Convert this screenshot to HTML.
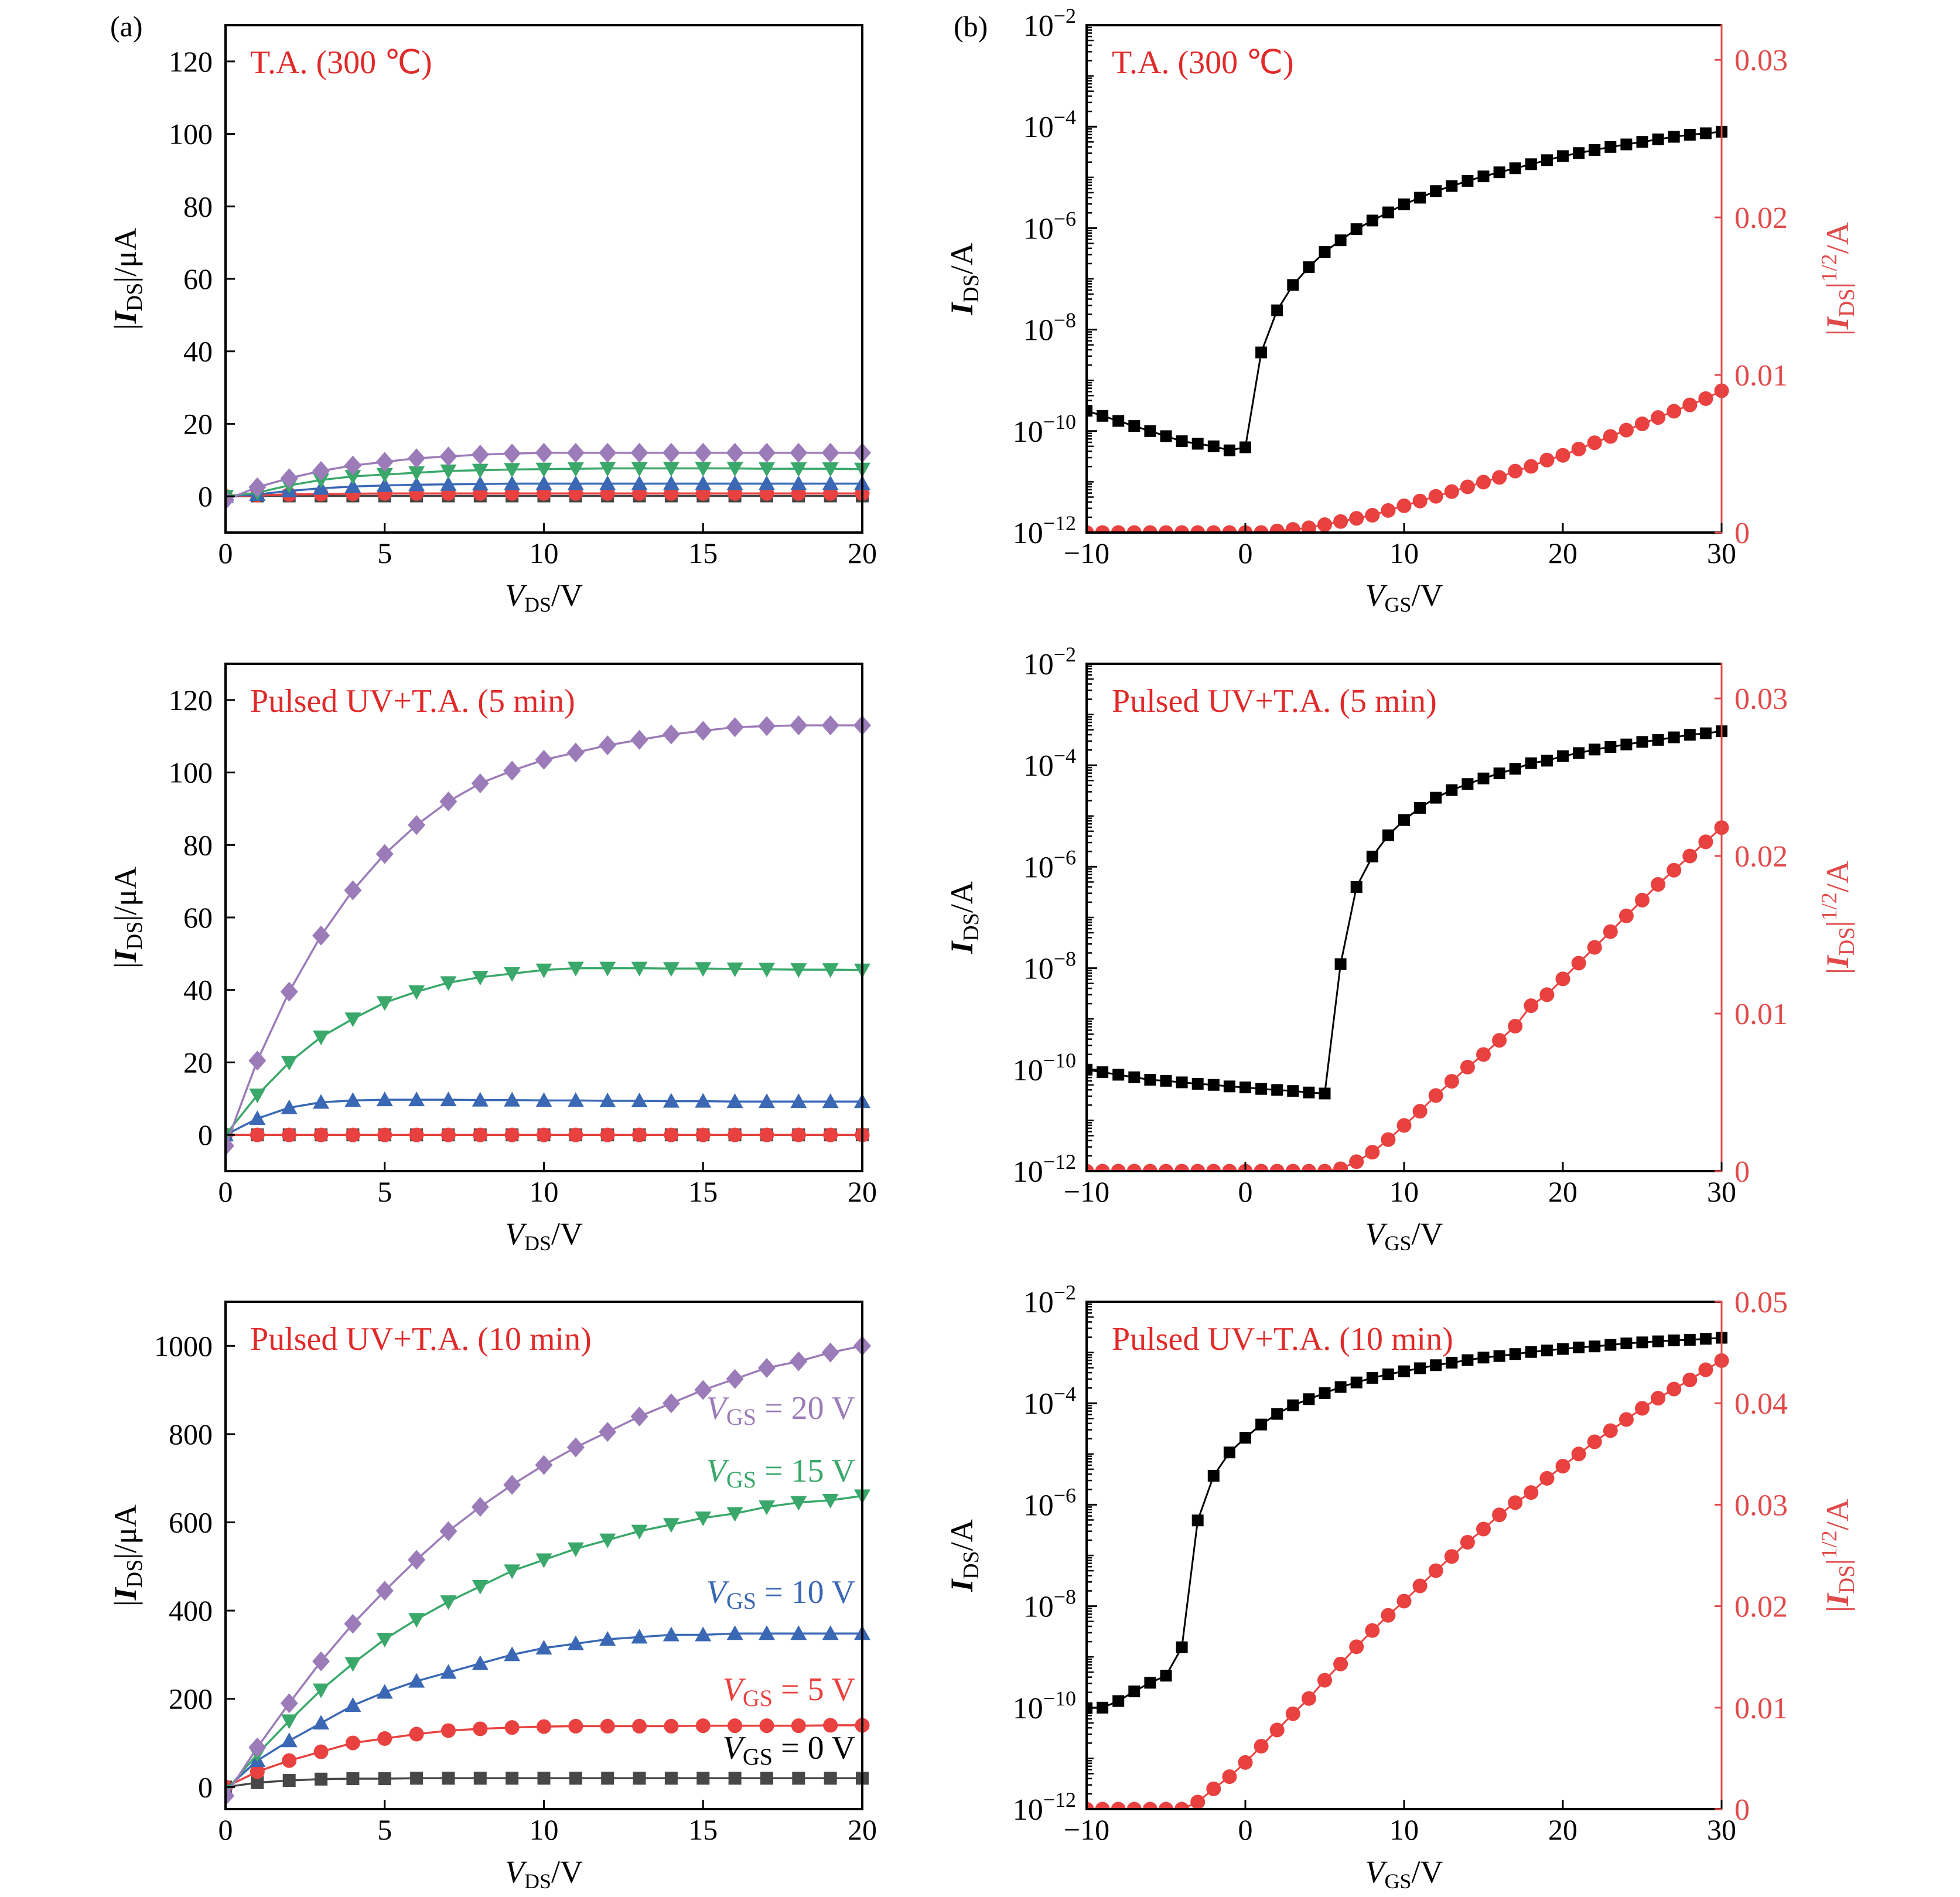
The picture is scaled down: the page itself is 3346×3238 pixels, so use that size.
<!DOCTYPE html>
<html><head><meta charset="utf-8">
<style>
html,body{margin:0;padding:0;background:#fff;}
svg{display:block;font-family:"Liberation Serif",serif;}
</style></head>
<body>
<svg id="fig" width="3346" height="3238" viewBox="0 0 3346 3238" xmlns="http://www.w3.org/2000/svg"></svg>
<script>
// ---------- data ----------
const vds = [0,1,2,3,4,5,6,7,8,9,10,11,12,13,14,15,16,17,18,19,20];
const vgs = [-10,-9,-8,-7,-6,-5,-4,-3,-2,-1,0,1,2,3,4,5,6,7,8,9,10,11,12,13,14,15,16,17,18,19,20,21,22,23,24,25,26,27,28,29,30];

// panel a1 (T.A. 300C), uA
const a1_vg20 = [-1,2.5,5,7,8.5,9.5,10.5,11,11.5,11.8,12,12,12,12,12,12,12,12,12,12,12];
const a1_vg15 = [0,1,3,4.5,5.5,6,6.5,7,7.2,7.4,7.5,7.6,7.7,7.7,7.7,7.7,7.7,7.6,7.6,7.6,7.5];
const a1_vg10 = [0,0.5,1.5,2.2,2.7,3,3.2,3.3,3.4,3.5,3.5,3.5,3.5,3.5,3.5,3.5,3.5,3.5,3.5,3.5,3.5];
const a1_vg5  = [0,0.3,0.5,0.6,0.7,0.8,0.8,0.8,0.8,0.8,0.8,0.8,0.8,0.8,0.8,0.8,0.8,0.8,0.8,0.8,0.8];
const a1_vg0  = [0,0.1,0.1,0.1,0.1,0.1,0.1,0.1,0.1,0.1,0.1,0.1,0.1,0.1,0.1,0.1,0.1,0.1,0.1,0.1,0.1];
// panel a2 (5 min)
const a2_vg20 = [-3,20.5,39.5,55,67.5,77.5,85.5,92,97,100.5,103.5,105.5,107.5,109,110.5,111.5,112.5,112.8,113,113,113];
const a2_vg15 = [0,11,20,27,32,36.5,39.5,42,43.5,44.5,45.5,46,46,46,45.9,45.9,45.8,45.7,45.6,45.6,45.5];
const a2_vg10 = [0,4.5,7.5,9,9.5,9.7,9.7,9.7,9.6,9.6,9.5,9.5,9.4,9.4,9.3,9.3,9.2,9.2,9.2,9.2,9.2];
const a2_vg5  = [0,0,0,0,0,0,0,0,0,0,0,0,0,0,0,0,0,0,0,0,0];
const a2_vg0  = [0,0,0,0,0,0,0,0,0,0,0,0,0,0,0,0,0,0,0,0,0];
// panel a3 (10 min)
const a3_vg20 = [-20,90,190,285,370,445,515,580,635,685,730,770,805,840,870,900,925,950,965,985,1000];
const a3_vg15 = [-10,75,150,220,280,335,380,420,455,490,515,540,560,580,595,610,620,635,645,650,660];
const a3_vg10 = [-5,60,105,145,185,215,240,260,280,300,315,325,335,340,345,345,348,348,348,348,348];
const a3_vg5  = [0,35,60,80,100,110,120,128,132,135,137,138,138,138,138,139,139,139,139,140,140];
const a3_vg0  = [0,10,15,18,19,19,20,20,20,20,20,20,20,20,20,20,20,20,20,20,20];

// panel b: log10(I_DS) and sqrt(I_DS)
const b1_logI = [-9.6,-9.7,-9.8,-9.9,-10.0,-10.1,-10.2,-10.25,-10.3,-10.38,-10.32,-8.45,-7.62,-7.12,-6.77,-6.47,-6.24,-6.02,-5.85,-5.69,-5.53,-5.4,-5.27,-5.17,-5.07,-4.98,-4.9,-4.82,-4.74,-4.66,-4.58,-4.52,-4.46,-4.4,-4.35,-4.3,-4.25,-4.2,-4.16,-4.13,-4.1];
const b1_sqrt = [0,0,0,0,0,0,0,0,0,0,0,0,0.0001,0.0002,0.0003,0.0005,0.0007,0.0009,0.0011,0.0014,0.0017,0.002,0.0023,0.0026,0.0029,0.0032,0.0035,0.0039,0.0042,0.0046,0.0049,0.0053,0.0057,0.0061,0.0065,0.0069,0.0073,0.0077,0.0081,0.0085,0.009];
const b2_logI = [-10.0,-10.05,-10.1,-10.15,-10.2,-10.22,-10.25,-10.28,-10.3,-10.33,-10.35,-10.38,-10.4,-10.42,-10.45,-10.47,-7.92,-6.4,-5.8,-5.38,-5.08,-4.84,-4.64,-4.49,-4.37,-4.26,-4.16,-4.07,-3.96,-3.91,-3.82,-3.76,-3.69,-3.64,-3.59,-3.54,-3.5,-3.45,-3.4,-3.37,-3.33];
const b2_sqrt = [0,0,0,0,0,0,0,0,0,0,0,0,0,0,0,0,0.00015,0.0006,0.0012,0.002,0.0029,0.0038,0.0048,0.0057,0.0066,0.0074,0.0083,0.0092,0.0105,0.0112,0.0122,0.0132,0.0142,0.0152,0.0162,0.0172,0.0182,0.0191,0.02,0.0209,0.0218];
const b3_logI = [-10.01,-10.0,-9.87,-9.68,-9.51,-9.37,-8.81,-6.31,-5.43,-4.97,-4.68,-4.42,-4.21,-4.04,-3.92,-3.8,-3.68,-3.59,-3.5,-3.43,-3.37,-3.31,-3.25,-3.2,-3.15,-3.1,-3.07,-3.03,-2.99,-2.96,-2.93,-2.9,-2.88,-2.85,-2.82,-2.8,-2.78,-2.76,-2.75,-2.73,-2.71];
const b3_sqrt = [0,0,0,0,0,0,0,0.0007,0.002,0.0032,0.0046,0.0062,0.0078,0.0094,0.0109,0.0127,0.0143,0.016,0.0176,0.0191,0.0205,0.022,0.0235,0.0249,0.0263,0.0276,0.029,0.0302,0.0312,0.0326,0.0338,0.035,0.0362,0.0373,0.0384,0.0395,0.0405,0.0414,0.0423,0.0433,0.0442];

// tick labels
const aXTicks = [0,5,10,15,20];
const aYTicks12 = [0,20,40,60,80,100,120];
const aYTicks3 = [0,200,400,600,800,1000];
const bXTicks = [-10,0,10,20,30];
const bLogTicks = [-12,-10,-8,-6,-4,-2];
const bRTicks12 = [0,0.01,0.02,0.03];
const bRTicks3 = [0,0.01,0.02,0.03,0.04,0.05];
const bRLabels12 = ["0","0.01","0.02","0.03"];
const bRLabels3 = ["0","0.01","0.02","0.03","0.04","0.05"];

// ---------- drawing ----------
const NS = "http://www.w3.org/2000/svg";
const svg = document.getElementById('fig');
const COL = {p:'#9b7bb8', g:'#3aa86a', b:'#3a68b4', r:'#e8413f', k:'#474747', K:'#000', R:'#e04a4a'};
function el(tag, attrs, parent){
  const e = document.createElementNS(NS, tag);
  for (const k in attrs) e.setAttribute(k, attrs[k]);
  (parent||svg).appendChild(e);
  return e;
}
function marker(g, shape, x, y, color){
  let m;
  if (shape==='sq') m = el('rect',{x:x-10,y:y-10,width:20,height:20,fill:color},g);
  else if (shape==='sqa') m = el('rect',{x:x-11,y:y-11,width:22,height:22,fill:color},g);
  else if (shape==='ci') m = el('circle',{cx:x,cy:y,r:12.5,fill:color},g);
  else if (shape==='up') m = el('polygon',{points:`${x},${y-14} ${x+14},${y+11} ${x-14},${y+11}`,fill:color},g);
  else if (shape==='dn') m = el('polygon',{points:`${x},${y+14} ${x+14},${y-11} ${x-14},${y-11}`,fill:color},g);
  else m = el('polygon',{points:`${x},${y-17} ${x+15},${y} ${x},${y+17} ${x-15},${y}`,fill:color},g);
  
  
}
function txt(s, x, y, opts, name){
  const t = el('text', Object.assign({x:x,y:y,'font-size':50}, opts||{}));
  t.innerHTML = s;
  
  
  return t;
}

const tops = [43,1133,2222], H = 866;
const AL = 385, AR = 1472, BL = 1855, BR = 2939;

const aPanels = [
  {data:[a1_vg0,a1_vg5,a1_vg10,a1_vg15,a1_vg20], ymin:-10, ymax:130, ticks:aYTicks12, title:'T.A. (300 ℃)'},
  {data:[a2_vg0,a2_vg5,a2_vg10,a2_vg15,a2_vg20], ymin:-10, ymax:130, ticks:aYTicks12, title:'Pulsed UV+T.A. (5 min)'},
  {data:[a3_vg0,a3_vg5,a3_vg10,a3_vg15,a3_vg20], ymin:-50, ymax:1100, ticks:aYTicks3, title:'Pulsed UV+T.A. (10 min)'}
];
const bPanels = [
  {logI:b1_logI, sq:b1_sqrt, rmax:0.0322, rt:bRTicks12, rl:bRLabels12, title:'T.A. (300 ℃)'},
  {logI:b2_logI, sq:b2_sqrt, rmax:0.0322, rt:bRTicks12, rl:bRLabels12, title:'Pulsed UV+T.A. (5 min)'},
  {logI:b3_logI, sq:b3_sqrt, rmax:0.05, rt:bRTicks3, rl:bRLabels3, title:'Pulsed UV+T.A. (10 min)'}
];
const shapesA = ['sqa','ci','up','dn','di'];
const colsA = [COL.k, COL.r, COL.b, COL.g, COL.p];
const namesA = ['vgs-0v','vgs-5v','vgs-10v','vgs-15v','vgs-20v'];

aPanels.forEach((P, idx)=>{
  const T = tops[idx], B = T+H;
  const sx = v => AL + (v-0)/(20-0)*(AR-AL);
  const sy = v => B - (v-P.ymin)/(P.ymax-P.ymin)*H;
  const clip = el('clipPath',{id:'ca'+idx});
  el('rect',{x:AL,y:T-20,width:AR-AL+20,height:H+20},clip);
  const g = el('g',{'clip-path':`url(#ca${idx})`});
  
  
  P.data.forEach((d,k)=>{
    const holder = el('g',{},g);
    
    
    const pts = vds.map((x,i)=>sx(x)+','+sy(d[i])).join(' ');
    const l = el('polyline',{points:pts,fill:'none',stroke:colsA[k],'stroke-width':3.5},holder);
    
    
    vds.forEach((x,i)=>marker(holder, shapesA[k], sx(x), sy(d[i]), colsA[k]));
  });
  const fr = el('rect',{x:AL,y:T,width:AR-AL,height:H,fill:'none',stroke:'#000','stroke-width':4});
  
  
  aXTicks.forEach(v=>{
    const tk = el('line',{x1:sx(v),x2:sx(v),y1:B,y2:B-16,stroke:'#000','stroke-width':3});
    
    
    txt(String(v), sx(v), B+52, {'text-anchor':'middle'}, 'x-tick-label');
  });
  P.ticks.forEach(v=>{
    const tk = el('line',{x1:AL,x2:AL+16,y1:sy(v),y2:sy(v),stroke:'#000','stroke-width':3});
    
    
    txt(String(v), AL-22, sy(v)+17, {'text-anchor':'end'}, 'y-tick-label');
  });
  txt('<tspan font-style="italic">V</tspan><tspan font-size="36" dy="10">DS</tspan><tspan dy="-10">/V</tspan>', (AL+AR)/2, B+125, {'text-anchor':'middle','font-size':54}, 'x-axis-title');
  txt('|<tspan font-style="italic" font-weight="bold">I</tspan><tspan font-size="38" dy="10">DS</tspan><tspan dy="-10">|/μA</tspan>', 0, 0, {'text-anchor':'middle','font-size':54, transform:`translate(232,${T+H/2}) rotate(-90)`}, 'y-axis-title');
  txt(P.title, AL+42, T+82, {fill:'#e02a2a','font-size':56}, 'panel-condition-label');
});
txt('(a)', 188, 62, {'font-size':50}, 'panel-a-label');
txt('(b)', 1628, 62, {'font-size':50}, 'panel-b-label');

// legend labels in a3
const legendV = ['0','5','10','15','20'];
const legendY = [3002, 2902, 2736, 2529, 2422];
legendV.forEach((v,k)=>{
  txt(`<tspan font-style="italic">V</tspan><tspan font-size="40" dy="10">GS</tspan><tspan dy="-10"> = ${v} V</tspan>`, 1460, legendY[k], {'text-anchor':'end','font-size':56, fill: k===0?'#000':colsA[k]}, 'legend-'+namesA[k]);
});

bPanels.forEach((P, idx)=>{
  const T = tops[idx], B = T+H;
  const sx = v => BL + (v+10)/40*(BR-BL);
  const sy = v => B - (v+12)/10*H;
  const sr = v => B - v/P.rmax*H;
  const clip = el('clipPath',{id:'cb'+idx});
  el('rect',{x:BL,y:T-20,width:BR-BL+20,height:H+20},clip);
  const g = el('g',{'clip-path':`url(#cb${idx})`});
  
  
  const hs = el('g',{},g);
  
  
  const l2 = el('polyline',{points:vgs.map((x,i)=>sx(x)+','+sr(P.sq[i])).join(' '),fill:'none',stroke:COL.r,'stroke-width':3},hs);
  
  
  vgs.forEach((x,i)=>marker(hs,'ci',sx(x),sr(P.sq[i]),COL.r));
  const hk = el('g',{},g);
  
  
  const l1 = el('polyline',{points:vgs.map((x,i)=>sx(x)+','+sy(P.logI[i])).join(' '),fill:'none',stroke:'#000','stroke-width':3},hk);
  
  
  vgs.forEach((x,i)=>marker(hk,'sq',sx(x),sy(P.logI[i]),'#000'));
  const f1 = el('polyline',{points:`${BR},${T} ${BL},${T} ${BL},${B} ${BR},${B}`,fill:'none',stroke:'#000','stroke-width':4});
  
  
  const f2 = el('line',{x1:BR,x2:BR,y1:T-2,y2:B+2,stroke:COL.R,'stroke-width':3});
  
  
  bXTicks.forEach(v=>{
    const tk = el('line',{x1:sx(v),x2:sx(v),y1:B,y2:B-16,stroke:'#000','stroke-width':3});
    
    
    txt(v<0?'−'+(-v):String(v), sx(v), B+52, {'text-anchor':'middle'}, 'x-tick-label');
  });
  for (let d=-12; d<-2; d++){
    for (let k=2;k<10;k++){
      const yy = sy(d+Math.log10(k));
      const tk = el('line',{x1:BL,x2:BL+(k===5?12:9),y1:yy,y2:yy,stroke:'#000','stroke-width':2.5});
      
      
    }
    if ((d+12)%2===1){
      const tk = el('line',{x1:BL,x2:BL+12,y1:sy(d),y2:sy(d),stroke:'#000','stroke-width':2.5});
      
      
    }
  }
  bLogTicks.forEach(v=>{
    const tk = el('line',{x1:BL,x2:BL+18,y1:sy(v),y2:sy(v),stroke:'#000','stroke-width':3});
    
    
    txt(`10<tspan font-size="36" dy="-22">−${-v}</tspan>`, BL-18, sy(v)+18, {'text-anchor':'end','font-size':52}, 'y-tick-label');
  });
  P.rt.forEach((v,i)=>{
    const tk = el('line',{x1:BR,x2:BR-12,y1:sr(v),y2:sr(v),stroke:COL.R,'stroke-width':3});
    
    
    txt(P.rl[i], BR+22, sr(v)+18, {fill:COL.R,'font-size':52}, 'right-y-tick-label');
  });
  txt('<tspan font-style="italic">V</tspan><tspan font-size="36" dy="10">GS</tspan><tspan dy="-10">/V</tspan>', (BL+BR)/2, B+125, {'text-anchor':'middle','font-size':54}, 'x-axis-title');
  txt('<tspan font-style="italic" font-weight="bold">I</tspan><tspan font-size="38" dy="10">DS</tspan><tspan dy="-10">/A</tspan>', 0, 0, {'text-anchor':'middle','font-size':54, transform:`translate(1660,${T+H/2}) rotate(-90)`}, 'y-axis-title');
  txt('|<tspan font-style="italic" font-weight="bold">I</tspan><tspan font-size="38" dy="10">DS</tspan><tspan dy="-10">|</tspan><tspan font-size="38" dy="-20">1/2</tspan><tspan dy="20">/A</tspan>', 0, 0, {'text-anchor':'middle','font-size':54, fill:COL.R, transform:`translate(3155,${T+H/2}) rotate(-90)`}, 'right-y-axis-title');
  txt(P.title, BL+43, T+82, {fill:'#e02a2a','font-size':56}, 'panel-condition-label');
});
</script>
</body></html>
